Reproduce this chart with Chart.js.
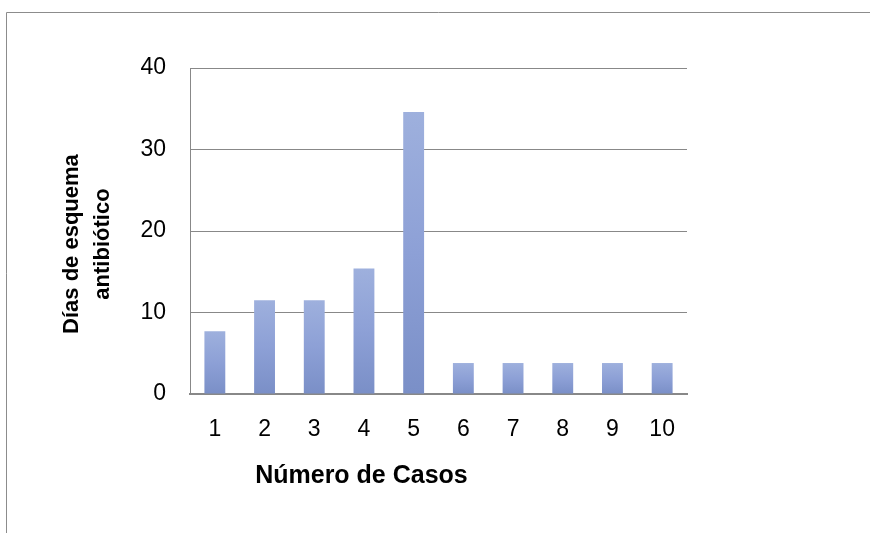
<!DOCTYPE html>
<html>
<head>
<meta charset="utf-8">
<script src="https://cdn.jsdelivr.net/npm/chart.js@4/dist/chart.umd.min.js"></script>
<style>
  html, body { margin: 0; padding: 0; background: #fff; }
  #wrap { width: 870px; height: 533px; }
</style>
</head>
<body>
<div id="wrap"><canvas id="c" width="870" height="533"></canvas></div>
<script>
// Casos y días de esquema antibiótico
const casos = ['1', '2', '3', '4', '5', '6', '7', '8', '9', '10'];
const dias = [7.7, 11.5, 11.5, 15.4, 34.6, 3.8, 3.8, 3.8, 3.8, 3.8];
const yTicks = [0, 10, 20, 30, 40];
const yTitle = ['Días de esquema', 'antibiótico'];
const xTitle = 'Número de Casos';

const FONT = "'Liberation Sans', Arial, sans-serif";

// Outer frame around the chart
const framePlugin = {
  id: 'frame',
  beforeDraw(chart) {
    const ctx = chart.ctx;
    ctx.save();
    ctx.strokeStyle = '#8c8c8c';
    ctx.lineWidth = 1;
    ctx.beginPath();
    ctx.moveTo(6.5, 540);
    ctx.lineTo(6.5, 12.5);
    ctx.lineTo(880, 12.5);
    ctx.stroke();
    ctx.restore();
  }
};

// Axis titles, placed relative to the plot area
const axisTitlesPlugin = {
  id: 'axisTitles',
  afterDraw(chart) {
    const ctx = chart.ctx;
    const a = chart.chartArea;
    ctx.save();
    ctx.fillStyle = '#000';
    ctx.textAlign = 'center';
    ctx.textBaseline = 'middle';

    // x title
    ctx.font = 'bold 25px ' + FONT;
    ctx.fillText(xTitle, a.left + (a.right - a.left) * 0.345, a.bottom + 82);

    // y title, rotated, two lines
    ctx.font = 'bold 22px ' + FONT;
    const cy = a.top + (a.bottom - a.top) * 0.54;
    yTitle.forEach((line, i) => {
      ctx.save();
      ctx.translate(a.left - 118 + i * 31, cy);
      ctx.rotate(-Math.PI / 2);
      ctx.fillText(line, 0, 0);
      ctx.restore();
    });
    ctx.restore();
  }
};

// Vertical gradient per bar, lighter on top, darker at the base
function barGradient(context) {
  const chart = context.chart;
  const y = chart.scales.y;
  if (!chart.chartArea || !y || context.dataIndex === undefined) return '#8c9fd6';
  const top = y.getPixelForValue(context.raw);
  const base = y.getPixelForValue(0);
  if (!isFinite(top) || !isFinite(base) || top === base) return '#8c9fd6';
  const g = chart.ctx.createLinearGradient(0, top, 0, base);
  g.addColorStop(0, '#9eb0dd');
  g.addColorStop(0.5, '#8da0d6');
  g.addColorStop(1, '#7a8fc7');
  return g;
}

new Chart(document.getElementById('c'), {
  type: 'bar',
  data: {
    labels: casos,
    datasets: [{
      data: dias,
      backgroundColor: barGradient,
      borderWidth: 0,
      barPercentage: 1,
      categoryPercentage: 0.42
    }]
  },
  options: {
    responsive: false,
    animation: false,
    devicePixelRatio: 1,
    layout: { padding: { top: 68, right: 183, bottom: 44, left: 0 } },
    plugins: { legend: { display: false }, tooltip: { enabled: false } },
    scales: {
      y: {
        min: 0, max: 40,
        afterFit(scale) { scale.width = 190; },
        afterBuildTicks(scale) { scale.ticks = yTicks.map(v => ({ value: v })); },
        ticks: { color: '#000', font: { family: FONT, size: 23 }, padding: 24 },
        grid: { color: '#888888', lineWidth: 1, drawTicks: false },
        border: { color: '#888888' },
        title: { display: false }
      },
      x: {
        afterFit(scale) { scale.height = 95; },
        ticks: { color: '#000', font: { family: FONT, size: 23 }, padding: 22 },
        grid: { display: false, drawTicks: false },
        border: { color: '#888888', width: 2 },
        title: { display: false }
      }
    }
  },
  plugins: [framePlugin, axisTitlesPlugin]
});
</script>
</body>
</html>
